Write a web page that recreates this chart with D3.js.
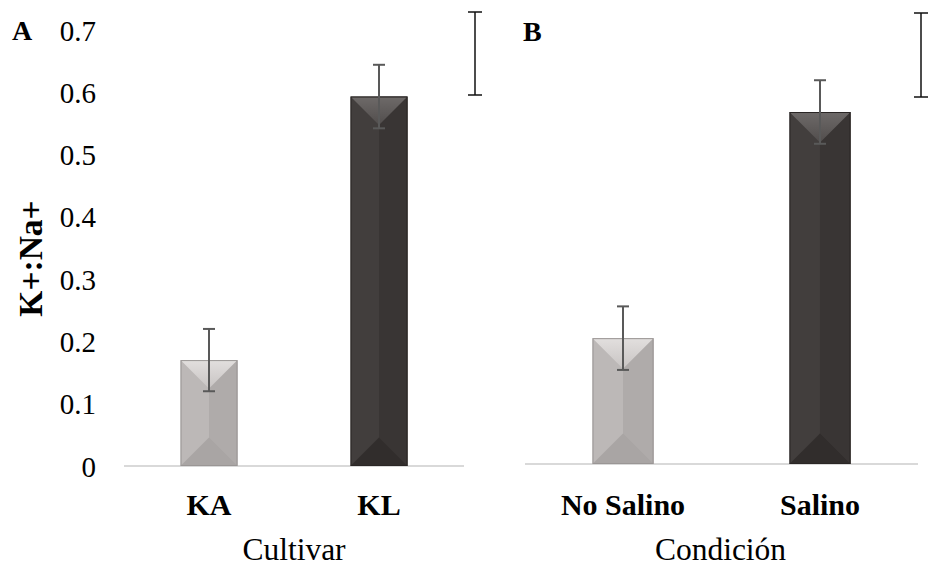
<!DOCTYPE html>
<html><head><meta charset="utf-8">
<script src="https://cdn.jsdelivr.net/npm/d3@7"></script>
<style>body{margin:0;background:#fff}svg{display:block}</style>
</head><body>
<svg id="c" width="928" height="567"></svg>
<script>
const yTicks = [0, 0.1, 0.2, 0.3, 0.4, 0.5, 0.6, 0.7];
const yTickLabels = ["0", "0.1", "0.2", "0.3", "0.4", "0.5", "0.6", "0.7"];
const catsA = ["KA", "KL"];
const valsA = [0.170, 0.593];
const errA = [0.050, 0.051];
const catsB = ["No Salino", "Salino"];
const valsB = [0.202, 0.565];
const errB = [0.051, 0.051];
const barTones = ["light", "dark"];

const FONT = '"Liberation Serif", "Times New Roman", Tinos';
const svg = d3.select("#c");
const palette = {
  light: {face:"#bcb8b7", right:"#afabaa", top0:"#e2dfde", top1:"#c8c4c3", bottom:"#a9a5a4", edge:"#9a9695"},
  dark: {face:"#423e3d", right:"#393534", top0:"#6e6a69", top1:"#514d4c", bottom:"#312d2c", edge:"#2a2625"}
};
const defs = svg.append("defs");
Object.entries(palette).forEach(([k, p]) => {
  const lg = defs.append("linearGradient").attr("id", "top-" + k).attr("x1", 0).attr("y1", 0).attr("x2", 0).attr("y2", 1);
  lg.append("stop").attr("offset", "0%").attr("stop-color", p.top0);
  lg.append("stop").attr("offset", "100%").attr("stop-color", p.top1);
});

function txt(g){ return g.append("text").style("font-family", FONT).attr("fill", "#000"); }

function panel(o){
  const x = d3.scaleBand().domain(o.cats).range([o.x0, o.x1]).paddingInner(o.pi).paddingOuter(o.po);
  const y = d3.scaleLinear().domain([0, 0.7]).range([o.yb, o.yt]);
  const g = svg.append("g");
  g.append("line").attr("x1", o.x0).attr("x2", o.x1).attr("y1", y(0)).attr("y2", y(0))
    .attr("stroke", "#d9d9d9").attr("stroke-width", 2);
  o.cats.forEach((c, i) => {
    const tone = barTones[i], p = palette[tone];
    const bx = x(c), bw = x.bandwidth(), by = y(o.vals[i]), bb = y(0);
    const cx = bx + bw/2, h = bw/2;
    const bg = g.append("g");
    bg.append("rect").attr("x", bx).attr("y", by).attr("width", bw).attr("height", bb-by).attr("fill", p.face);
    bg.append("rect").attr("x", cx).attr("y", by).attr("width", bw/2).attr("height", bb-by).attr("fill", p.right);
    bg.append("path").attr("d", `M${bx},${by}L${bx+bw},${by}L${cx},${by+h}Z`).attr("fill", `url(#top-${tone})`);
    bg.append("path").attr("d", `M${bx},${bb}L${bx+bw},${bb}L${cx},${bb-h}Z`).attr("fill", p.bottom);
    bg.append("rect").attr("x", bx+0.5).attr("y", by+0.5).attr("width", bw-1).attr("height", bb-by-1)
      .attr("fill", "none").attr("stroke", p.edge).attr("stroke-width", 1);
    const eg = g.append("g").attr("stroke", "#595959").attr("stroke-width", 2);
    const yt = y(o.vals[i] + o.err[i]), yb = y(o.vals[i] - o.err[i]);
    eg.append("line").attr("x1", cx).attr("x2", cx).attr("y1", yt).attr("y2", yb);
    eg.append("line").attr("x1", cx-6).attr("x2", cx+6).attr("y1", yt).attr("y2", yt);
    eg.append("line").attr("x1", cx-6).attr("x2", cx+6).attr("y1", yb).attr("y2", yb);
    txt(g).attr("x", cx).attr("y", 515).attr("text-anchor", "middle")
      .attr("font-size", 30).attr("font-weight", "bold").text(c);
  });
  txt(g).attr("x", (o.x0 + o.x1)/2 + o.titleDx).attr("y", 560).attr("text-anchor", "middle")
    .attr("font-size", 31.5).text(o.title);
  const sg = g.append("g").attr("stroke", "#111").attr("stroke-width", 1.5);
  sg.append("line").attr("x1", o.sbx).attr("x2", o.sbx).attr("y1", o.sby0).attr("y2", o.sby1);
  sg.append("line").attr("x1", o.sbx-7).attr("x2", o.sbx+7).attr("y1", o.sby0).attr("y2", o.sby0);
  sg.append("line").attr("x1", o.sbx-7).attr("x2", o.sbx+7).attr("y1", o.sby1).attr("y2", o.sby1);
  txt(g).attr("x", o.lx).attr("y", o.ly).attr("font-size", o.lsize).attr("font-weight", "bold").text(o.letter);
  return {x, y, g};
}

const A = panel({cats: catsA, vals: valsA, err: errA, x0: 124, x1: 464, pi: 0.665, po: 0.3325,
  yb: 466, yt: 29.9, title: "Cultivar", titleDx: 0, sbx: 475, sby0: 12, sby1: 95, letter: "A", lx: 12, ly: 40, lsize: 28});
const B = panel({cats: catsB, vals: valsB, err: errB, x0: 525, x1: 918, pi: 0.69, po: 0.3425,
  yb: 464, yt: 27.9, title: "Condición", titleDx: -1, sbx: 921, sby0: 13, sby1: 97, letter: "B", lx: 523, ly: 41, lsize: 28});

const yAxis = d3.axisLeft(A.y).tickValues(yTicks).tickFormat((d, i) => yTickLabels[i]).tickSize(0).tickPadding(0);
const ya = svg.append("g").attr("transform", "translate(96,0)").call(yAxis);
ya.attr("font-family", null).attr("font-size", null);
ya.select(".domain").remove();
ya.selectAll("text").style("font-family", FONT).attr("font-size", 29).attr("fill", "#000").attr("dy", "0.35em");

txt(svg).attr("transform", "translate(42,258.5) rotate(-90)").attr("text-anchor", "middle")
  .attr("font-size", 33.5).attr("font-weight", "bold").text("K+:Na+");
</script>
</body></html>
